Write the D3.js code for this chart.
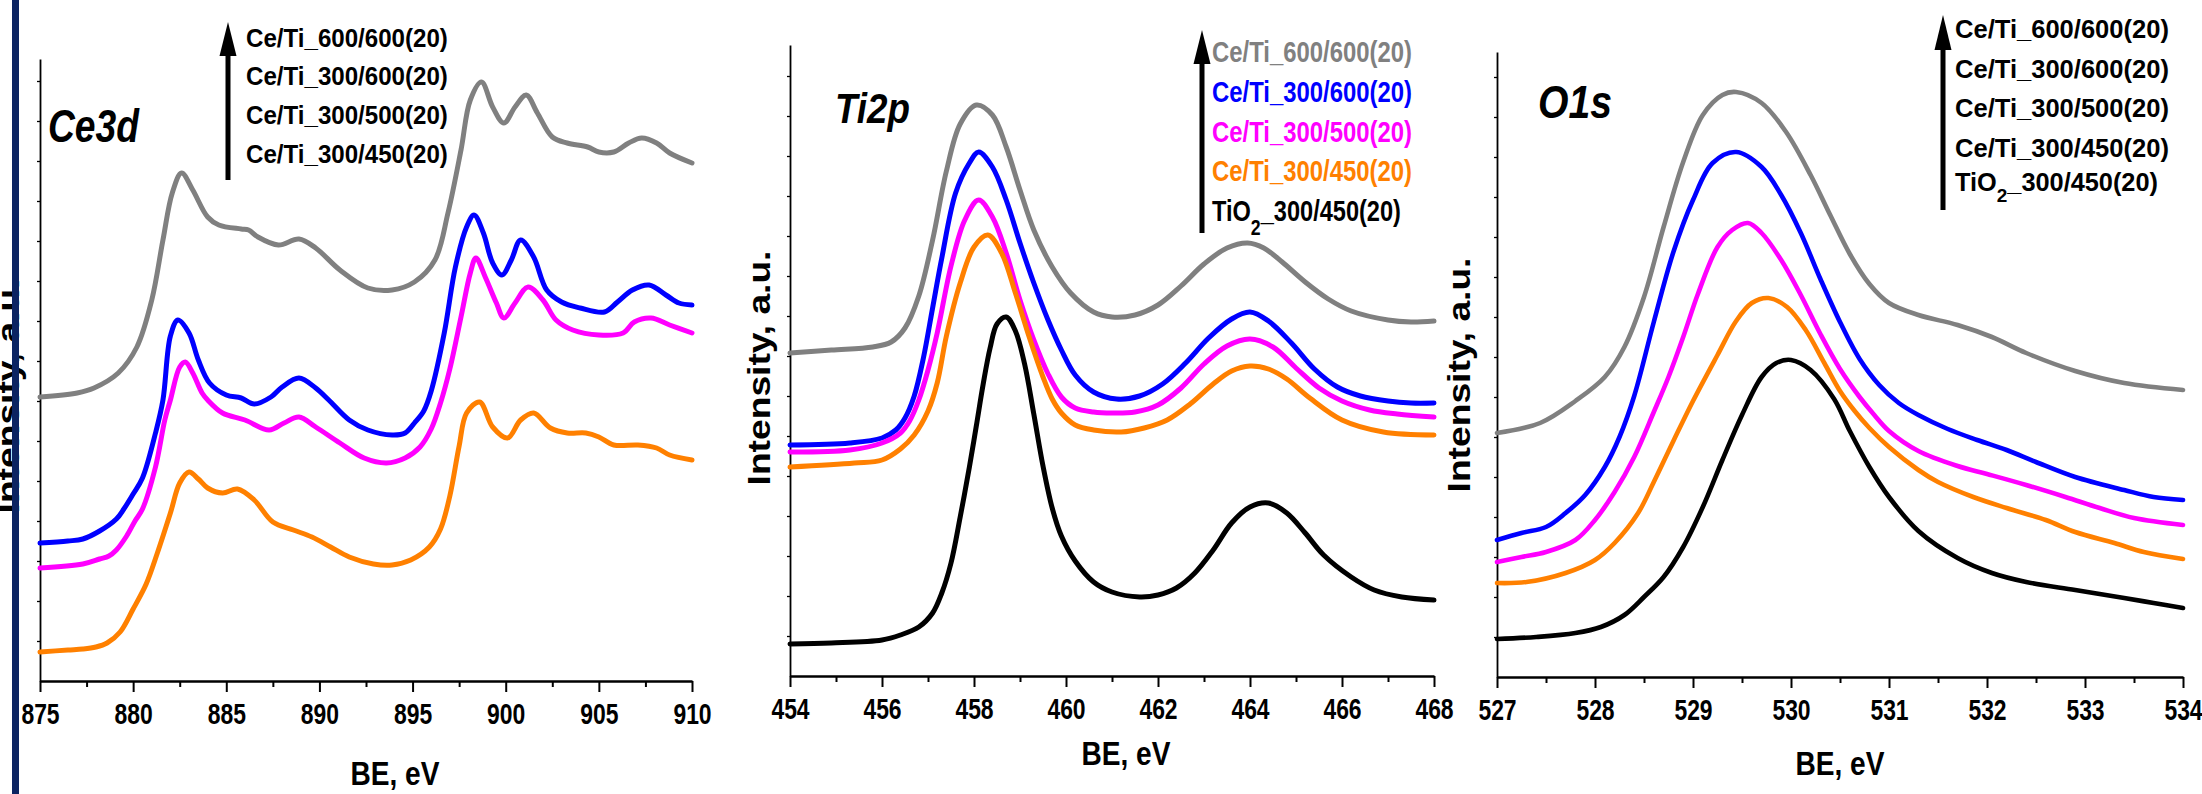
<!DOCTYPE html>
<html><head><meta charset="utf-8">
<script src="https://cdn.jsdelivr.net/npm/d3@7"></script>
<style>
html,body{margin:0;padding:0;background:#fff;}
svg{display:block;background:#fff;}
text{font-family:"Liberation Sans", Arial, sans-serif;font-weight:bold;}
</style></head><body>
<svg id="chart" width="2202" height="794"></svg>
<script>
// ---------------- DATA ----------------
const seriesNames = ["Ce/Ti_600/600(20)","Ce/Ti_300/600(20)","Ce/Ti_300/500(20)","Ce/Ti_300/450(20)","TiO2_300/450(20)"];
const seriesColors = ["#808080","#0000ff","#ff00ff","#ff8000","#000000"];

const ce3dTicks = [875,880,885,890,895,900,905,910];
const ti2pTicks = [454,456,458,460,462,464,466,468];
const o1sTicks  = [527,528,529,530,531,532,533,534];

// Ce3d spectra: [BE (eV), intensity (a.u.)]
const ce3d_600_600 = [[875.0,284],[877.0,288],[877.9,293],[879.2,308],[880.2,334],[881.0,381],[881.6,441],[882.1,488],[882.6,508],[883.2,491],[884.0,464],[884.6,456],[885.8,452],[886.2,451],[886.7,444],[887.8,436],[888.9,442],[889.8,433],[891.1,411],[892.6,393],[893.9,391],[895.1,399],[896.2,421],[896.9,468],[897.6,531],[898.1,581],[898.7,599],[899.3,574],[899.9,558],[900.5,574],[901.1,586],[901.7,568],[902.5,544],[903.3,538],[904.4,534],[905.0,529],[905.8,529],[906.6,538],[907.3,543],[908.1,538],[908.8,528],[910.0,518]];
const ce3d_300_600 = [[875.0,138],[876.5,140],[877.3,142],[878.2,150],[879.1,162],[879.5,172],[880.0,187],[880.5,203],[881.2,248],[881.6,281],[882.0,345],[882.4,361],[883.0,348],[883.5,321],[884.1,298],[885.0,286],[885.8,283],[886.5,277],[887.4,284],[888.0,294],[888.9,303],[889.8,293],[890.5,281],[891.6,261],[892.6,251],[893.9,246],[894.6,248],[895.1,258],[895.6,270],[896.0,290],[896.7,348],[897.3,414],[897.9,454],[898.3,466],[898.8,448],[899.3,418],[899.8,406],[900.3,421],[900.8,441],[901.5,424],[902.2,391],[903.0,379],[904.0,373],[905.3,369],[906.0,379],[906.8,391],[907.7,396],[908.6,386],[909.3,378],[910.0,376]];
const ce3d_300_500 = [[875.0,113],[877.3,117],[878.2,122],[878.7,125],[879.1,131],[879.65,145],[880.1,160],[880.5,172],[881.2,214],[881.7,261],[882.0,281],[882.5,314],[882.8,319],[883.2,308],[883.7,288],[884.0,281],[884.8,268],[886.0,261],[887.3,251],[888.1,258],[888.9,264],[889.8,254],[891.1,238],[892.4,223],[893.6,218],[894.6,223],[895.4,234],[896.0,252],[896.5,278],[897.0,312],[897.6,364],[898.1,408],[898.4,423],[898.9,404],[899.5,378],[899.9,363],[900.5,378],[901.2,394],[902.0,381],[902.7,361],[903.6,351],[905.0,346],[906.3,348],[906.9,359],[907.8,363],[908.8,356],[910.0,348]];
const ce3d_300_450 = [[875.0,29],[876.5,31],[877.3,32],[878.0,34],[878.6,38],[879.3,49],[880.0,72],[880.7,97],[881.3,128],[882.0,168],[882.5,198],[883.0,209],[883.5,202],[884.0,193],[884.8,188],[885.6,192],[886.5,181],[887.5,159],[888.6,151],[889.6,144],[890.6,134],[891.6,124],[892.9,117],[893.9,116],[894.9,121],[895.9,134],[896.5,152],[897.0,185],[897.5,235],[897.9,268],[898.6,279],[899.3,254],[900.1,243],[900.8,261],[901.5,268],[902.4,253],[903.3,248],[904.3,248],[905.0,244],[905.8,236],[907.1,236],[908.1,233],[908.8,226],[910.0,221]];

// Ti2p spectra
const ti2p_600_600 = [[454.0,323],[454.9,326],[455.8,329],[456.2,334],[456.5,348],[456.8,380],[457.1,436],[457.4,505],[457.7,552],[458.05,571],[458.4,561],[458.7,529],[459.0,486],[459.3,446],[459.7,409],[460.1,383],[460.6,364],[461.0,359],[461.5,361],[462.0,371],[462.5,390],[463.0,412],[463.5,428],[463.95,433],[464.3,428],[464.7,414],[465.2,394],[465.7,377],[466.2,365],[467.0,356],[467.5,354],[468.0,355]];
const ti2p_300_600 = [[454.0,231],[455.3,233],[456.0,238],[456.3,246],[456.5,258],[456.7,280],[456.9,318],[457.1,368],[457.3,418],[457.6,483],[457.9,513],[458.1,524],[458.4,509],[458.7,476],[459.0,433],[459.3,393],[459.6,357],[459.9,326],[460.2,301],[460.6,284],[461.1,277],[461.6,280],[462.1,292],[462.6,313],[463.1,338],[463.6,357],[464.0,364],[464.4,355],[464.9,333],[465.4,307],[465.9,289],[466.4,280],[467.0,275],[467.5,273],[468.0,273]];
const ti2p_300_500 = [[454.0,224],[455.3,226],[456.0,233],[456.4,243],[456.6,255],[456.8,276],[457.0,306],[457.2,343],[457.5,410],[457.8,456],[458.1,476],[458.4,459],[458.7,423],[459.0,376],[459.3,336],[459.6,303],[459.9,279],[460.2,268],[460.6,264],[461.0,263],[461.5,264],[462.0,271],[462.5,288],[463.0,312],[463.5,330],[464.0,337],[464.5,329],[465.0,308],[465.5,288],[466.0,275],[466.6,266],[467.2,262],[468.0,259]];
const ti2p_300_450 = [[454.0,209],[455.4,213],[456.0,216],[456.4,227],[456.7,241],[457.0,265],[457.2,293],[457.4,340],[457.7,393],[458.0,429],[458.3,441],[458.6,423],[458.9,383],[459.2,339],[459.5,299],[459.7,277],[459.9,263],[460.2,251],[460.6,246],[461.2,244],[461.7,248],[462.2,256],[462.7,272],[463.2,292],[463.6,305],[464.0,310],[464.4,307],[464.8,297],[465.3,278],[466.0,256],[466.9,244],[468.0,241]];
const ti2p_tio2 = [[454.0,32],[454.9,33],[456.0,36],[456.4,41],[456.8,49],[457.1,63],[457.3,83],[457.5,113],[457.7,159],[457.9,209],[458.05,250],[458.2,292],[458.35,328],[458.5,352],[458.7,359],[458.9,345],[459.1,312],[459.3,262],[459.5,210],[459.7,168],[459.9,140],[460.2,115],[460.6,94],[461.0,84],[461.6,79],[462.0,81],[462.4,88],[462.8,103],[463.2,126],[463.6,153],[464.0,169],[464.4,173],[464.8,163],[465.2,143],[465.6,121],[466.2,99],[466.7,86],[467.3,79],[468.0,76]];

// O1s spectra
const o1s_600_600 = [[527.0,244],[527.44,254],[527.8,276],[528.1,300],[528.3,330],[528.5,380],[528.7,450],[528.9,515],[529.1,562],[529.3,582],[529.44,585],[529.7,574],[529.95,545],[530.2,502],[530.4,462],[530.6,423],[530.8,393],[531.0,374],[531.3,362],[531.7,352],[532.05,340],[532.4,324],[532.9,306],[533.4,294],[534.0,287]];
const o1s_300_600 = [[527.0,137],[527.25,144],[527.5,150],[527.7,164],[527.9,182],[528.1,210],[528.25,240],[528.4,281],[528.6,355],[528.8,425],[529.0,477],[529.2,514],[529.44,525],[529.7,510],[529.9,482],[530.1,444],[530.3,398],[530.5,355],[530.7,318],[530.9,292],[531.1,274],[531.3,262],[531.6,248],[531.9,237],[532.2,227],[532.5,215],[532.9,200],[533.4,187],[533.7,180],[534.0,177]];
const o1s_300_500 = [[527.0,115],[527.25,120],[527.5,125],[527.8,137],[528.0,157],[528.2,185],[528.4,220],[528.6,265],[528.75,300],[528.9,340],[529.05,383],[529.25,430],[529.4,447],[529.56,454],[529.7,444],[529.9,417],[530.1,382],[530.3,343],[530.5,308],[530.7,280],[530.85,262],[531.0,246],[531.3,226],[531.7,211],[532.0,203],[532.4,192],[532.8,180],[533.15,169],[533.5,159],[534.0,152]];
const o1s_300_450 = [[527.0,94],[527.3,95],[527.7,104],[528.0,117],[528.2,134],[528.44,164],[528.6,195],[528.8,236],[529.0,276],[529.25,322],[529.44,356],[529.6,374],[529.77,379],[529.96,370],[530.15,347],[530.34,314],[530.5,286],[530.65,266],[530.8,249],[531.0,230],[531.3,207],[531.5,195],[531.86,180],[532.2,169],[532.6,157],[532.9,145],[533.3,134],[533.6,125],[534.0,118]];
const o1s_tio2 = [[527.0,38],[527.4,40],[527.8,44],[528.06,50],[528.3,62],[528.5,80],[528.7,100],[528.9,130],[529.1,170],[529.3,217],[529.5,262],[529.7,300],[529.85,314],[530.0,317],[530.2,307],[530.44,278],[530.6,246],[530.8,210],[531.0,180],[531.3,146],[531.7,119],[532.05,104],[532.4,95],[532.9,87],[533.4,79],[533.7,74],[534.0,69]];

// ---------------- LAYOUT ----------------
const svg = d3.select("#chart");
const FONT = '"Liberation Sans", Arial, sans-serif';

function label(parent, str, o) {
  const t = parent.append("text")
    .attr("font-size", o.size).attr("font-weight", "bold")
    .attr("font-style", o.italic ? "italic" : "normal")
    .attr("text-anchor", o.anchor || "start")
    .attr("fill", o.fill || "#000").text(str);
  const w = t.node().getComputedTextLength();
  const s = o.width ? o.width / w : 1;
  t.attr("transform", `translate(${o.x},${o.y})${o.rotate ? ` rotate(${o.rotate})` : ""} scale(${s},1)`);
  return t;
}
function tioLabel(parent, o) {
  const t = parent.append("text").attr("font-size", o.size).attr("font-weight","bold").attr("fill", o.fill || "#000");
  t.append("tspan").text("TiO");
  t.append("tspan").attr("font-size", o.size * 0.75).attr("dy", o.size * 0.45).text("2");
  t.append("tspan").attr("dy", -o.size * 0.45).text("_300/450(20)");
  const w = t.node().getComputedTextLength();
  t.attr("transform", `translate(${o.x},${o.y}) scale(${o.width / w},1)`);
}

const panels = [
  { title:"Ce3d", L:40, R:692, B:681, T:59, domain:[875,910], major:ce3dTicks, minorStep:2.5, lw:5,
    series:[ce3d_600_600, ce3d_300_600, ce3d_300_500, ce3d_300_450],
    titlePos:{x:48,y:142,size:46,width:91},
    xt:{x:395,y:785}, yt:{x:19,y:396}, tickY:43,
    leg:{ax:228, tip:22, base:56, bot:180, tx:246, ty:[47,85,124,163], size:25, width:202, colored:false, count:4}
  },
  { title:"Ti2p", L:790, R:1434, B:676, T:45, domain:[454,468], major:ti2pTicks, minorStep:1, lw:5,
    series:[ti2p_600_600, ti2p_300_600, ti2p_300_500, ti2p_300_450, ti2p_tio2],
    titlePos:{x:835,y:123,size:42,width:75},
    xt:{x:1126,y:765}, yt:{x:770,y:368}, tickY:43,
    leg:{ax:1202, tip:30, base:64, bot:233, tx:1212, ty:[62,102,142,181,221], size:30, width:200, w5:189, colored:true, count:5}
  },
  { title:"O1s", L:1497, R:2183, B:677, T:52, domain:[527,534], major:o1sTicks, minorStep:0.5, lw:4.6,
    series:[o1s_600_600, o1s_300_600, o1s_300_500, o1s_300_450, o1s_tio2],
    titlePos:{x:1538,y:118,size:46,width:74},
    xt:{x:1840,y:775}, yt:{x:1470,y:375}, tickY:43,
    leg:{ax:1943, tip:15, base:50, bot:210, tx:1955, ty:[38,78,117,157,191], size:25, width:214, w5:203, colored:false, count:5}
  }
];

// y-axis titles (drawn first, left one is partly covered by the frame bar)
panels.forEach(p => {
  label(svg, "Intensity, a.u.", {x:p.yt.x, y:p.yt.y, size:32, width:235, anchor:"middle", rotate:-90});
});

panels.forEach(p => {
  const g = svg.append("g");
  const x = d3.scaleLinear().domain(p.domain).range([p.L, p.R]);
  const y = d3.scaleLinear().domain([0, p.B - p.T]).range([p.B, p.T]);

  // y axis with small minor ticks
  const ya = g.append("g").attr("transform", `translate(${p.L},0)`)
    .call(d3.axisLeft(y).tickValues(d3.range(40, p.B - p.T, 40)).tickSize(3).tickSizeOuter(0).tickFormat(""));
  ya.select(".domain").attr("stroke-width", 1.8);
  ya.selectAll(".tick line").attr("stroke-width", 1.3);

  // x minor ticks
  const minor = d3.range(p.domain[0], p.domain[1] + 1e-9, p.minorStep).filter(v => !p.major.includes(+v.toFixed(2)));
  const xm = g.append("g").attr("transform", `translate(0,${p.B})`)
    .call(d3.axisBottom(x).tickValues(minor).tickSize(6).tickSizeOuter(0).tickFormat(""));
  xm.select(".domain").remove();
  xm.selectAll(".tick line").attr("stroke-width", 2);

  // x major ticks + labels
  const xa = g.append("g").attr("transform", `translate(0,${p.B})`)
    .call(d3.axisBottom(x).tickValues(p.major).tickSize(11).tickSizeOuter(0).tickFormat(d3.format("d")));
  xa.attr("font-family", FONT).attr("font-size", 29);
  xa.select(".domain").attr("stroke-width", 2.6);
  xa.selectAll(".tick line").attr("stroke-width", 2);
  xa.selectAll(".tick text").attr("y", 0).attr("dy", 0).attr("fill", "#000")
    .attr("font-weight", "bold").attr("transform", `translate(0,${p.tickY}) scale(0.79,1)`);

  // spectra
  const line = d3.line().x(d => x(d[0])).y(d => y(d[1])).curve(d3.curveCatmullRom.alpha(0.5));
  p.series.forEach((s, i) => {
    g.append("path").datum(s).attr("d", line).attr("fill", "none")
      .attr("stroke", seriesColors[i]).attr("stroke-width", p.lw)
      .attr("stroke-linejoin", "round").attr("stroke-linecap", "round");
  });

  // titles
  label(g, p.title, {x:p.titlePos.x, y:p.titlePos.y, size:p.titlePos.size, width:p.titlePos.width, italic:true});
  label(g, "BE, eV", {x:p.xt.x, y:p.xt.y, size:33, width:89, anchor:"middle"});

  // legend arrow
  const L = p.leg;
  g.append("line").attr("x1", L.ax).attr("x2", L.ax).attr("y1", L.bot).attr("y2", L.base - 2)
    .attr("stroke", "#000").attr("stroke-width", 5);
  g.append("path").attr("d", `M${L.ax},${L.tip} L${L.ax - 8.5},${L.base} L${L.ax + 8.5},${L.base} Z`).attr("fill", "#000");
  for (let i = 0; i < L.count; i++) {
    const fill = L.colored ? seriesColors[i] : "#000";
    if (i === 4) tioLabel(g, {x:L.tx, y:L.ty[i], size:L.size, width:L.w5, fill});
    else label(g, seriesNames[i], {x:L.tx, y:L.ty[i], size:L.size, width:L.width, fill});
  }
});

// dark frame bar at the left edge
svg.append("rect").attr("x", 12).attr("y", 0).attr("width", 7).attr("height", 794).attr("fill", "#0b2462");
</script>
</body></html>
